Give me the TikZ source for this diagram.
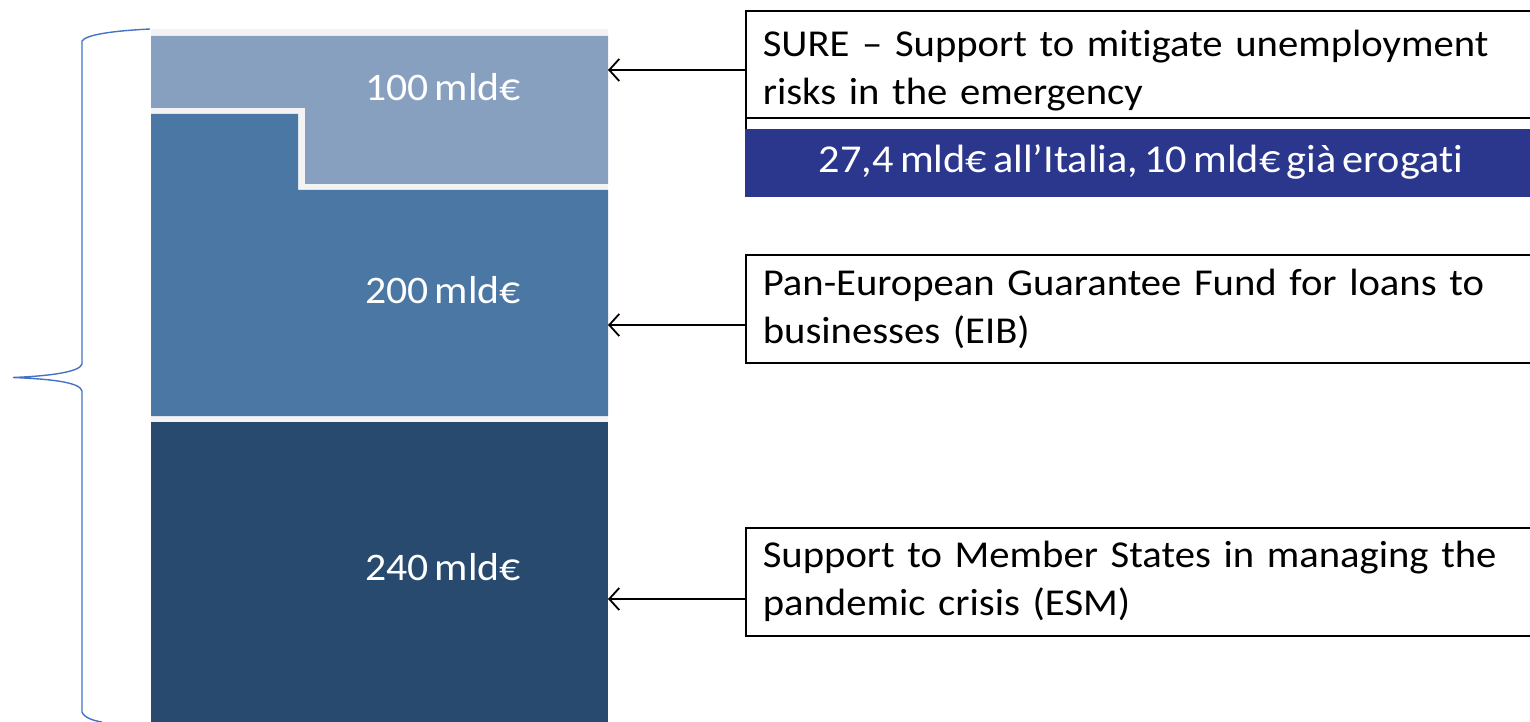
\documentclass[tikz,border=0pt]{standalone}
\usepackage{fontspec}
\setmainfont{Carlito}[FakeStretch=1.07, Ligatures=NoCommon, WordSpace=0.65]
\usetikzlibrary{arrows.meta}
\definecolor{sepc}{HTML}{F3F3F3}
\definecolor{topc}{HTML}{87A0BF}
\definecolor{midc}{HTML}{4A77A4}
\definecolor{botc}{HTML}{284A6F}
\definecolor{darkblue}{HTML}{2B378C}
\definecolor{bracec}{HTML}{4472C4}
\tikzset{
  infobox/.style={draw=black, line width=1.6pt, fill=white, anchor=north west,
    minimum width=800pt, text width=780pt, align=left, inner xsep=17pt,
    font=\fontsize{38}{48}\selectfont},
  amount/.style={text=white, font=\fontsize{39}{44}\selectfont},
  link/.style={-{Straight Barb[length=10pt,width=22pt,line width=1.8pt]}, line width=1.8pt},
}
\begin{document}
\begin{tikzpicture}[x=1pt,y=-1pt]
\useasboundingbox (0,0) rectangle (1530,722);
% blocks
\fill[sepc] (151,29) rectangle (608,722);
\fill[topc] (151,36) -- (608,36) -- (608,184) -- (305,184) -- (305,108) -- (151,108) -- cycle;
\fill[midc] (151,114) -- (298,114) -- (298,190) -- (608,190) -- (608,416) -- (151,416) -- cycle;
\fill[botc] (151,422) rectangle (608,722);
\node[amount] (a100) at (443,87) {100 mld€};
\node[amount] (a200) at (443,290) {200 mld€};
\node[amount] (a240) at (443,567) {240 mld€};
% brace
\draw[bracec, line width=1.4pt] (150,29) .. controls (110,31) and (86,35) .. (82,41)
  -- (82,364) .. controls (80,372) and (50,376) .. (13,377.5)
  .. controls (50,379) and (80,382) .. (82,391)
  -- (82,712) .. controls (84,718) and (95,721) .. (102,722);
% boxes
\node[infobox, minimum height=119pt] (sure) at (745,10)
  {SURE – Support to mitigate unemployment\\risks in the emergency};
\draw[line width=1.6pt] (745,118) -- (1540,118);
\node[fill=darkblue, anchor=north west, minimum width=800pt, minimum height=68pt,
  inner sep=0pt] (italia) at (745,129) {};
\node[text=white, font=\fontsize{39.5}{44}\selectfont] (italiat) at (1141,162)
  {27,4 mld€ all’Italia, 10 mld€ già erogati};
\node[infobox, minimum height=108pt] (eib) at (745,254)
  {Pan-European Guarantee Fund for loans to\\businesses (EIB)};
\node[infobox, minimum height=108pt] (esm) at (745,527)
  {Support to Member States in managing the\\pandemic crisis (ESM)};
% arrow targets
\coordinate (t1) at (608,70);
\coordinate (t2) at (608,325);
\coordinate (t3) at (608,599);
\draw[link] (sure.west |- t1) -- (t1);
\draw[link] (eib.west |- t2) -- (t2);
\draw[link] (esm.west |- t3) -- (t3);
\end{tikzpicture}
\end{document}
